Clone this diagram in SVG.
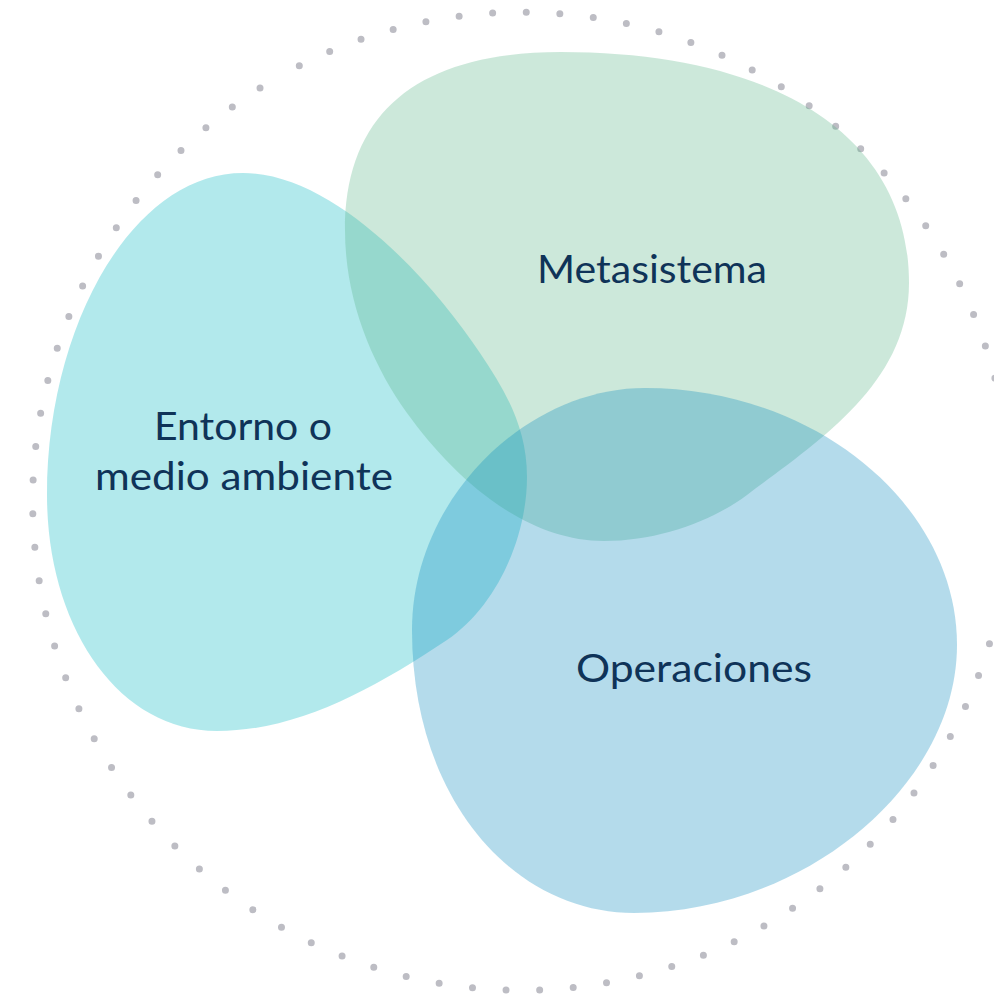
<svg xmlns="http://www.w3.org/2000/svg" width="994" height="995" viewBox="0 0 994 995">
  <style>
    .blob { opacity: 0.3; }
    .label { font-family: "Lato", "Noto Sans", "Liberation Sans", sans-serif; font-size: 38px; font-weight: 400; fill: #0f3358; text-anchor: middle; }
    .ring { fill: none; stroke: #bdbdc4; stroke-width: 7; stroke-linecap: round; stroke-dasharray: 0 33.63; }
  </style>
  <rect width="994" height="995" fill="#ffffff"/>
  <g id="boundary">
    <path class="ring" d="M299.3,65.7 A489,489 0 1,1 260.5,87.8"/>
  </g>
  <g id="node-entorno">
    <path class="blob" fill="#00b5c0" d="M243,173 C333,173 430,278 480,353 C505,390 527,427 527,477 C527,537 497,606 447,640 C372,690 297,731 217,731 C117,731 47,625 47,495 C47,325 133,173 243,173 Z"/>
  </g>
  <g id="node-metasistema">
    <path class="blob" fill="#56b486" d="M561,52 C771,52 909,133 909,283 C909,383 819,441 747,495 C712,521 659,541 604,541 C524,541 454,478 407,413 C372,364 345,300 345,230 C345,110 421,52 561,52 Z"/>
  </g>
  <g id="node-operaciones">
    <path class="blob" fill="#0587bc" d="M645,388 C815,388 957,505 957,645 C957,785 804,913 634,913 C514,913 412,800 412,630 C412,500 525,388 645,388 Z"/>
  </g>
  <g id="labels">
    <text class="label" x="243" y="440" textLength="178" lengthAdjust="spacingAndGlyphs">Entorno o</text>
    <text class="label" x="244" y="490" textLength="298" lengthAdjust="spacingAndGlyphs">medio ambiente</text>
    <text class="label" x="652" y="283" textLength="230" lengthAdjust="spacingAndGlyphs">Metasistema</text>
    <text class="label" x="694" y="682" textLength="236" lengthAdjust="spacingAndGlyphs">Operaciones</text>
  </g>
  <g id="connectors"/>
</svg>
